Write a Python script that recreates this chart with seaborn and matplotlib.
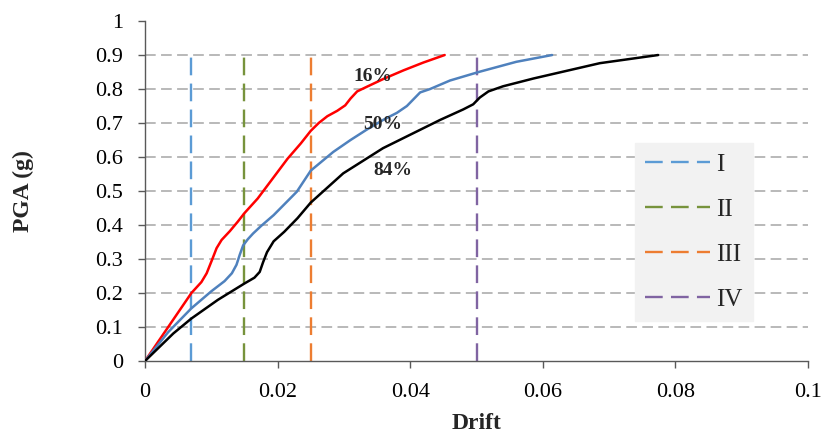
import matplotlib
matplotlib.use("Agg")
import matplotlib.pyplot as plt
import seaborn as sns
import pandas as pd

# 16% fractile curve
drift_16 = [0, 0.0035, 0.007, 0.0085, 0.0093, 0.0101, 0.0108, 0.01155, 0.0128, 0.0140, 0.015, 0.017, 0.019,
            0.0215, 0.0235, 0.025, 0.0262, 0.0275, 0.029, 0.0302, 0.031, 0.032, 0.0335, 0.036, 0.039, 0.042, 0.0452]
pga_16 = [0, 0.10, 0.20, 0.232, 0.258, 0.297, 0.332, 0.356, 0.382, 0.41, 0.435, 0.478, 0.53,
          0.595, 0.64, 0.677, 0.70, 0.72, 0.736, 0.752, 0.772, 0.793, 0.807, 0.83, 0.855, 0.878, 0.90]
# 50% fractile curve
drift_50 = [0, 0.0035, 0.007, 0.010, 0.012, 0.0131, 0.0138, 0.0143, 0.0148, 0.0155, 0.0163, 0.0175, 0.0194,
            0.0229, 0.025, 0.0284, 0.031, 0.0334, 0.036, 0.038, 0.0395, 0.0405, 0.0415, 0.043, 0.046, 0.0505, 0.056, 0.0614]
pga_50 = [0, 0.085, 0.155, 0.205, 0.235, 0.258, 0.283, 0.313, 0.34, 0.358, 0.375, 0.397, 0.429,
          0.498, 0.56, 0.615, 0.65, 0.68, 0.71, 0.73, 0.75, 0.77, 0.79, 0.80, 0.825, 0.851, 0.88, 0.90]
# 84% fractile curve
drift_84 = [0, 0.00427, 0.007, 0.011, 0.015, 0.0165, 0.0173, 0.0178, 0.0184, 0.0194, 0.021, 0.023, 0.025,
            0.0299, 0.0359, 0.0445, 0.048, 0.0495, 0.0505, 0.0518, 0.054, 0.0586, 0.0686, 0.0774]
pga_84 = [0, 0.081, 0.125, 0.18, 0.228, 0.245, 0.262, 0.29, 0.32, 0.352, 0.38, 0.42, 0.466,
          0.552, 0.626, 0.709, 0.74, 0.755, 0.775, 0.793, 0.808, 0.831, 0.876, 0.90]

limit_names = ["I", "II", "III", "IV"]
limit_drifts = [0.007, 0.015, 0.025, 0.05]
limit_colors = ["#5B9BD5", "#77933C", "#ED7D31", "#8064A2"]

curve_labels = ["16%", "50%", "84%"]
label_pos = [(0.0344, 0.838), (0.0359, 0.697), (0.0374, 0.559)]

sns.set_style("white")
plt.rcParams['font.family'] = ['Liberation Serif', 'DejaVu Serif']

fig = plt.figure(figsize=(8.30, 4.38), dpi=100)
ax = fig.add_axes([0.1747, 0.1758, 0.7988, 0.7762])

for y in [0.1, 0.2, 0.3, 0.4, 0.5, 0.6, 0.7, 0.8, 0.9]:
    ax.axhline(y, color="#A6A6A6", lw=1.1, ls=(0, (7, 3.5)), zorder=0)

handles = []
for name, xv, c in zip(limit_names, limit_drifts, limit_colors):
    h, = ax.plot([xv, xv], [0, 0.9], color=c, lw=1.7, ls=(0, (7.5, 3.5)), label=name, zorder=2)
    handles.append(h)

df16 = pd.DataFrame({"Drift": drift_16, "PGA": pga_16})
df50 = pd.DataFrame({"Drift": drift_50, "PGA": pga_50})
df84 = pd.DataFrame({"Drift": drift_84, "PGA": pga_84})
for df, c in [(df16, "#FF0000"), (df50, "#4F81BD"), (df84, "#000000")]:
    sns.lineplot(data=df, x="Drift", y="PGA", color=c, lw=1.8, ax=ax, sort=False, estimator=None, zorder=3)

for t, (xx, yy) in zip(curve_labels, label_pos):
    ax.text(xx, yy, t, fontsize=14, fontweight="bold", ha="center", va="center", zorder=4)

ax.set_xlim(0, 0.1)
ax.set_ylim(0, 1)
ax.set_xticks([0, 0.02, 0.04, 0.06, 0.08, 0.1])
ax.set_xticklabels(["0", "0.02", "0.04", "0.06", "0.08", "0.1"])
ax.set_yticks([i / 10 for i in range(11)])
ax.set_yticklabels(["0", "0.1", "0.2", "0.3", "0.4", "0.5", "0.6", "0.7", "0.8", "0.9", "1"])
ax.tick_params(axis="both", direction="out", length=5, width=1, colors="#595959", labelcolor="black",
               labelsize=16, bottom=True, left=True)
ax.tick_params(axis="x", pad=11)
ax.tick_params(axis="y", pad=11)
for s in ["top", "right"]:
    ax.spines[s].set_visible(False)
for s in ["left", "bottom"]:
    ax.spines[s].set_color("#595959")
    ax.spines[s].set_linewidth(1)

ax.set_xlabel("Drift", fontsize=17, fontweight="bold", labelpad=8)
ax.set_ylabel("PGA (g)", fontsize=17, fontweight="bold", labelpad=44)

leg = ax.legend(handles=handles, loc="upper left", bbox_to_anchor=(0.739, 0.64), frameon=True,
                fontsize=18, handlelength=2.6, labelspacing=0.9, borderpad=0.4, handletextpad=0.25,
                borderaxespad=0)
leg.get_frame().set_facecolor("#F2F2F2")
leg.get_frame().set_edgecolor("#F2F2F2")
leg.get_frame().set_boxstyle("square", pad=0)
leg.get_frame().set_alpha(1)

fig.savefig("out.png", dpi=100)
